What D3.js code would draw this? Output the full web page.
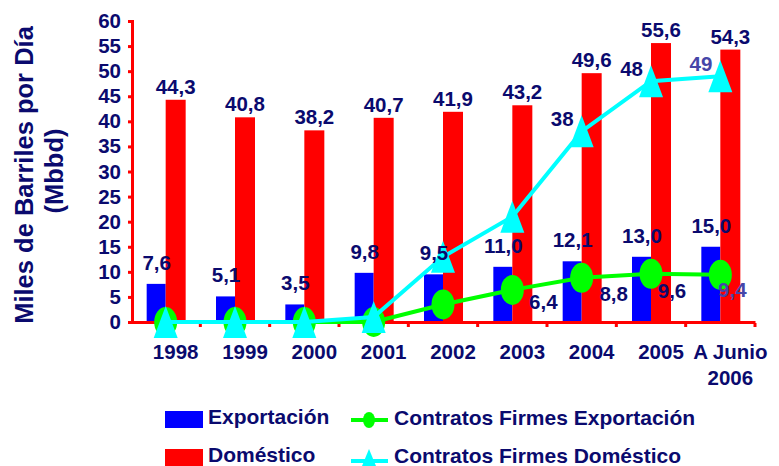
<!DOCTYPE html>
<html>
<head>
<meta charset="utf-8">
<script src="https://cdn.jsdelivr.net/npm/d3@7"></script>
<style>
  body { margin: 0; background: #fff; }
  text { font-family: Arial, "Liberation Sans", sans-serif; font-weight: bold; fill: #0a0a6e; }
</style>
</head>
<body>
<div id="chart"></div>
<script>
// categorías y series
var years = ['1998', '1999', '2000', '2001', '2002', '2003', '2004', '2005', 'A Junio|2006'];
var exportacion = [7.6, 5.1, 3.5, 9.8, 9.5, 11.0, 12.1, 13.0, 15.0];
var domestico = [44.3, 40.8, 38.2, 40.7, 41.9, 43.2, 49.6, 55.6, 54.3];
var cfExportacion = [0, 0, 0, 0, 3.5, 6.4, 8.8, 9.6, 9.4];
var cfDomestico = [0, 0, 0, 1, 13, 21, 38, 48, 49];
var cfExpLabels = [null, null, null, null, null, '6,4', '8,8', '9,6', '9,4'];
var cfDomLabels = [null, null, null, null, null, null, '38', '48', '49'];
var yTicks = [0, 5, 10, 15, 20, 25, 30, 35, 40, 45, 50, 55, 60];

// ajustes a mano de las etiquetas de la línea verde
var expNudge = [[0, 0], [0, 0], [0, 0], [0, 0], [0, 0], [31, 12], [32, 16], [21, 17], [12, 15]];

var W = 779, H = 466;
var navy = '#0a0a6e';
var fmt = function(v) { return v.toFixed(1).replace('.', ','); };

var svg = d3.select('#chart').append('svg')
    .attr('width', W)
    .attr('height', H);

var x = d3.scaleBand().domain(years).range([131, 755]).padding(0);
var y = d3.scaleLinear().domain([0, 60]).range([322, 21]);
var cx = function(i) { return x(years[i]) + x.bandwidth() / 2; };

// barras
svg.append('g').selectAll('rect')
    .data(exportacion)
    .enter().append('rect')
    .attr('x', function(d, i) { return cx(i) - 19; })
    .attr('y', function(d) { return y(d); })
    .attr('width', 19)
    .attr('height', function(d) { return y(0) - y(d); })
    .attr('fill', '#0000ff');

svg.append('g').selectAll('rect')
    .data(domestico)
    .enter().append('rect')
    .attr('x', function(d, i) { return cx(i); })
    .attr('y', function(d) { return y(d); })
    .attr('width', 20)
    .attr('height', function(d) { return y(0) - y(d); })
    .attr('fill', '#ff0000');

// ejes
var yAxis = d3.axisLeft(y).tickValues(yTicks).tickSize(4).tickPadding(7);
var gy = svg.append('g')
    .attr('transform', 'translate(132,0)')
    .call(yAxis);
gy.select('.domain').attr('stroke', '#ff0000').attr('stroke-width', 3);
gy.selectAll('.tick line').attr('stroke', '#ff0000').attr('stroke-width', 3);
gy.selectAll('.tick text')
    .style('font-size', '20.5px')
    .attr('fill', navy);

var xAxis = d3.axisBottom(x).tickSize(0).tickFormat('');
var gx = svg.append('g')
    .attr('transform', 'translate(0,' + y(0) + ')')
    .call(xAxis);
gx.select('.domain').attr('stroke', '#ff0000').attr('stroke-width', 3);

// marcas entre categorías
svg.append('g').selectAll('rect')
    .data(years)
    .enter().append('rect')
    .attr('x', function(d) { return x(d) + x.bandwidth() - 1.5; })
    .attr('y', y(0) + 1)
    .attr('width', 3)
    .attr('height', 4)
    .attr('fill', '#ff0000');

// etiquetas del eje x
years.forEach(function(c, i) {
    var parts = c.split('|');
    parts.forEach(function(p, j) {
        svg.append('text')
            .attr('x', cx(i) + 10)
            .attr('y', 359 + j * 26)
            .attr('text-anchor', 'middle')
            .style('font-size', '20.5px')
            .text(p);
    });
});

// líneas
var line = d3.line()
    .x(function(d, i) { return cx(i); })
    .y(function(d) { return y(d); });

svg.append('path')
    .datum(cfExportacion)
    .attr('d', line)
    .attr('fill', 'none')
    .attr('stroke', '#00ff00')
    .attr('stroke-width', 4);

svg.append('g').selectAll('ellipse')
    .data(cfExportacion)
    .enter().append('ellipse')
    .attr('cx', function(d, i) { return cx(i); })
    .attr('cy', function(d) { return y(d); })
    .attr('rx', 11.5)
    .attr('ry', 15)
    .attr('fill', '#00ff00');

svg.append('path')
    .datum(cfDomestico)
    .attr('d', line)
    .attr('fill', 'none')
    .attr('stroke', '#00ffff')
    .attr('stroke-width', 4);

svg.append('g').selectAll('path')
    .data(cfDomestico)
    .enter().append('path')
    .attr('d', 'M0,-16L12,16L-12,16Z')
    .attr('transform', function(d, i) { return 'translate(' + cx(i) + ',' + y(d) + ')'; })
    .attr('fill', '#00ffff');

// etiquetas de valores
svg.append('g').selectAll('text')
    .data(exportacion)
    .enter().append('text')
    .attr('x', function(d, i) { return cx(i) - 9; })
    .attr('y', function(d) { return y(d) - 14; })
    .attr('text-anchor', 'middle')
    .style('font-size', '20.5px')
    .text(fmt);

svg.append('g').selectAll('text')
    .data(domestico)
    .enter().append('text')
    .attr('x', function(d, i) { return cx(i) + 10; })
    .attr('y', function(d) { return y(d) - 6; })
    .attr('text-anchor', 'middle')
    .style('font-size', '20.5px')
    .text(fmt);

cfExportacion.forEach(function(d, i) {
    if (!cfExpLabels[i]) return;
    svg.append('text')
        .attr('x', cx(i) + expNudge[i][0])
        .attr('y', y(d) + expNudge[i][1] + 7)
        .attr('text-anchor', 'middle')
        .style('font-size', '20.5px')
        .style('fill', i == 8 ? '#4646a8' : navy)
        .text(cfExpLabels[i]);
});

cfDomestico.forEach(function(d, i) {
    if (!cfDomLabels[i]) return;
    svg.append('text')
        .attr('x', cx(i) - 8)
        .attr('y', y(d) - 5)
        .attr('text-anchor', 'end')
        .style('font-size', '20.5px')
        .style('fill', i == 8 ? '#4646a8' : navy)
        .text(cfDomLabels[i]);
});

// título del eje y
svg.append('text')
    .attr('transform', 'translate(33,175) rotate(-90)')
    .attr('text-anchor', 'middle')
    .style('font-size', '25.5px')
    .text('Miles de Barriles por Día');
svg.append('text')
    .attr('transform', 'translate(63,171) rotate(-90)')
    .attr('text-anchor', 'middle')
    .style('font-size', '25.5px')
    .text('(Mbbd)');

// leyenda
svg.append('rect').attr('x', 165).attr('y', 411).attr('width', 38).attr('height', 17).attr('fill', '#0000ff');
svg.append('rect').attr('x', 165).attr('y', 449).attr('width', 38).attr('height', 17).attr('fill', '#ff0000');
svg.append('text').attr('x', 208).attr('y', 424).style('font-size', '21px').text('Exportación');
svg.append('text').attr('x', 208).attr('y', 462).style('font-size', '21px').text('Doméstico');

svg.append('line').attr('x1', 351).attr('x2', 388).attr('y1', 420).attr('y2', 420)
    .attr('stroke', '#00ff00').attr('stroke-width', 4);
svg.append('ellipse').attr('cx', 369).attr('cy', 420).attr('rx', 6).attr('ry', 8).attr('fill', '#00ff00');
svg.append('line').attr('x1', 351).attr('x2', 388).attr('y1', 461).attr('y2', 461)
    .attr('stroke', '#00ffff').attr('stroke-width', 4);
svg.append('path').attr('d', 'M369,449L376,466L362,466Z').attr('fill', '#00ffff');
svg.append('text').attr('x', 394).attr('y', 425).style('font-size', '21px').text('Contratos Firmes Exportación');
svg.append('text').attr('x', 394).attr('y', 463).style('font-size', '21px').text('Contratos Firmes Doméstico');
</script>
</body>
</html>
